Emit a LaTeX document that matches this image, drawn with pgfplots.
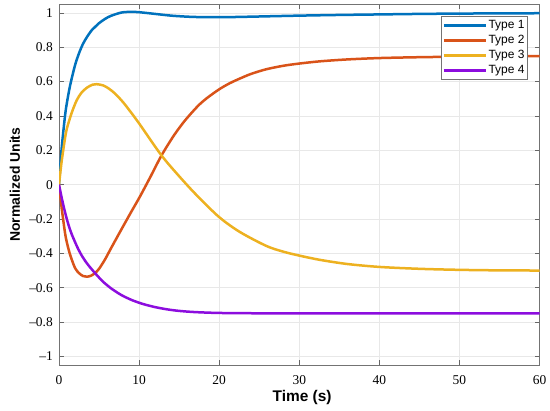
\documentclass[border=0pt]{standalone}
\usepackage{fontspec}
\setmainfont{Liberation Serif}
\setsansfont{Liberation Sans}
\usepackage{pgfplots}
\pgfplotsset{compat=1.18}
\definecolor{c1}{rgb}{0,0.447,0.741}
\definecolor{c2}{rgb}{0.85,0.325,0.098}
\definecolor{c3}{rgb}{0.929,0.694,0.125}
\definecolor{c4}{rgb}{0.55,0.05,0.87}
\begin{document}
\begin{tikzpicture}
\begin{axis}[
  scale only axis, width=480.5bp, height=360.7bp,
  xmin=0, xmax=60, ymin=-1.05, ymax=1.05,
  xtick={0,10,20,30,40,50,60},
  xticklabels={0,10,20,30,40,50,60},
  ytick={-1,-0.8,-0.6,-0.4,-0.2,0,0.2,0.4,0.6,0.8,1},
  yticklabels={–1,–0.8,–0.6,–0.4,–0.2,0,0.2,0.4,0.6,0.8,1},
  tick align=inside, major tick length=5bp,
  grid=major, grid style={gray!18, line width=0.6bp},
  axis line style={black!55, line width=0.7bp},
  tick style={black!60, line width=0.6bp},
  ticklabel style={font=\fontsize{13.5}{15}\selectfont},
  yticklabel style={inner sep=0pt, xshift=-6bp},
  xticklabel style={inner sep=0pt, yshift=-10bp},
  xlabel={\sffamily\bfseries Time (s)},
  ylabel={\sffamily\bfseries Normalized Units},
  xlabel style={font=\fontsize{15.5}{17}\selectfont, at={(axis description cs:0.506,-0.0914)}, anchor=center},
  ylabel style={font=\fontsize{14}{16}\selectfont, at={(axis description cs:-0.0916,0.5)}, anchor=center},
  legend style={at={(axis description cs:0.9755,0.9676)}, anchor=north east,
    draw=black!55, line width=0.6bp, fill=white, inner sep=1.5bp,
    font=\sffamily\fontsize{12}{14}\selectfont,
    nodes={inner sep=1.5bp, text height=9bp, text depth=3bp}},
  legend cell align=left,
  legend image code/.code={\draw[#1, line width=2.5bp] (0bp,0bp) -- (42bp,0bp);},
  every axis plot/.append style={line width=2.5bp, smooth, tension=0.5},
]
\coordinate (SW) at (rel axis cs:0,0);
\coordinate (NE) at (rel axis cs:1,1);
\addplot[c1] coordinates {
(0,0) (0.33,0.21) (0.75,0.40) (1.0,0.48) (1.4,0.58) (2.0,0.695) (2.5,0.765) (3.0,0.82)
(3.5,0.86) (4.1,0.9) (4.5,0.918) (5.0,0.94) (5.75,0.965) (6.5,0.983) (7.8,1.002) (9,1.006)
(10,1.004) (12,0.994) (14,0.984) (16,0.978) (18,0.975) (20,0.975) (22,0.976) (25,0.979)
(30,0.984) (35,0.988) (40,0.991) (45,0.994) (50,0.996) (55,0.997) (60,0.998)};
\addlegendentry{Type 1}
\addplot[c2] coordinates {
(0,0) (0.33,-0.135) (0.75,-0.28) (1.0,-0.34) (1.4,-0.41) (2.0,-0.485) (2.5,-0.515) (3.0,-0.532)
(3.5,-0.536) (4.0,-0.53) (4.5,-0.515) (5.0,-0.49) (5.75,-0.435) (6.5,-0.37) (7.8,-0.26)
(9,-0.16) (10.1,-0.07) (11.4,0.044) (12.8,0.17) (14.3,0.283) (15.5,0.36) (16.5,0.415)
(17.5,0.465) (18.5,0.505) (20,0.555) (21.3,0.59) (22.6,0.618) (24,0.645) (25.9,0.672)
(28,0.692) (30,0.705) (32.6,0.718) (36,0.729) (40,0.737)
(45,0.742) (50,0.745) (55,0.747) (60,0.748)};
\addlegendentry{Type 2}
\addplot[c3] coordinates {
(0,0) (0.33,0.135) (0.75,0.27) (1.0,0.33) (1.6,0.42) (2.2,0.49) (2.8,0.535) (3.5,0.565)
(4.2,0.582) (4.7,0.585) (5.5,0.578) (6.2,0.56) (7.0,0.53) (8.0,0.48) (9.0,0.42) (10.1,0.35)
(12.8,0.17) (15.1,0.044) (17.2,-0.062) (20,-0.189) (22.6,-0.276) (25.9,-0.357)
(28,-0.39) (30,-0.413) (32.6,-0.438) (36,-0.462) (40,-0.479) (45,-0.49) (50,-0.496) (55,-0.499) (60,-0.5)};
\addlegendentry{Type 3}
\addplot[c4] coordinates {
(0,0) (0.33,-0.075) (0.75,-0.16) (1.16,-0.23) (1.6,-0.29) (2.4,-0.375) (3.0,-0.425) (3.6,-0.465)
(4.5,-0.515) (5.5,-0.565) (6.6,-0.607) (7.8,-0.643) (9.1,-0.672) (10.5,-0.695) (12,-0.713)
(13.5,-0.726) (15,-0.735) (17,-0.742) (20,-0.747) (25,-0.749) (30,-0.75) (40,-0.75) (60,-0.75)};
\addlegendentry{Type 4}
\end{axis}
\pgfresetboundingbox
\path ([shift={(-59bp,-46bp)}]SW) rectangle ([shift={(10.5bp,4.3bp)}]NE);
\end{tikzpicture}
\end{document}
